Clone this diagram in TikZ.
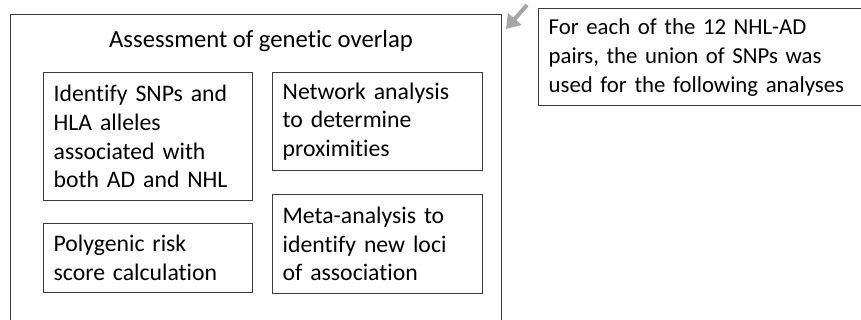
\documentclass[tikz,border=0pt]{standalone}
\usepackage{fontspec}
\setmainfont{Carlito}[Ligatures=NoCommon]
\usetikzlibrary{arrows.meta}
\definecolor{boxline}{HTML}{3C3C3C}
\definecolor{pointer}{HTML}{A6A6A6}
\tikzset{
  taskbox/.style={draw=boxline, line width=1pt, anchor=north west, align=left,
    inner xsep=7.5pt, inner ysep=0pt, font=\fontsize{17.8}{21.5}\selectfont},
}
\begin{document}
\begin{tikzpicture}[x=0.75pt,y=0.75pt, yscale=-1,xscale=1]
\useasboundingbox (0,0) rectangle (861,320);
\clip (0,0) rectangle (861,320);
%Outer frame
\node [draw=boxline, line width=1pt, anchor=north west, minimum width=491*0.75pt, minimum height=330*0.75pt, inner sep=0pt] (overlap) at (10,14) {};
% Title
\node [font=\fontsize{18.5}{22}\selectfont] (title) at (261,41) {Assessment of genetic overlap};
% Task boxes
\node [taskbox, text width=189*0.75pt, minimum height=128*0.75pt] (identify) at (43,72) {Identify SNPs and\\HLA alleles\\associated with\\both AD and NHL};
\node [taskbox, text width=190*0.75pt, minimum height=98*0.75pt] (network) at (272,72) {Network analysis\\to determine\\proximities};
\node [taskbox, text width=189*0.75pt, minimum height=69*0.75pt] (polygenic) at (43,223) {Polygenic risk\\score calculation};
\node [taskbox, text width=190*0.75pt, minimum height=99*0.75pt] (meta) at (272,194) {Meta-analysis to\\identify new loci\\of association};
% Note
\node [taskbox, font=\fontsize{17.1}{21.75}\selectfont, text width=306*0.75pt, minimum height=97*0.75pt] (pairs) at (538,8) {For each of the 12 NHL-AD\\pairs, the union of SNPs was\\used for the following analyses};
% Pointer
\coordinate (tail) at (527,5);
\coordinate (tip) at (506,29);
\draw [pointer, line width=3pt, -{Triangle[width=13pt,length=10pt]}] (tail) -- (tip);
\end{tikzpicture}
\end{document}
